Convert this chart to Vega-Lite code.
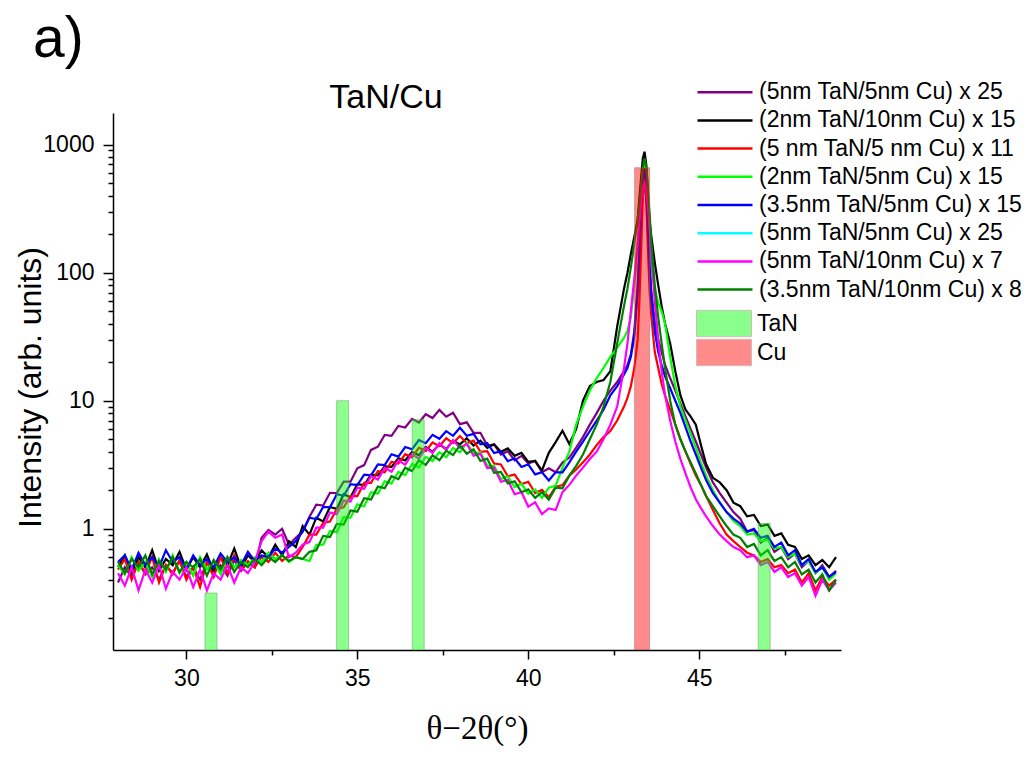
{
"$schema": "https://vega.github.io/schema/vega-lite/v6.json",
"width": 728, "height": 537,
"autosize": {"type": "none"},
"padding": {"left": 113, "top": 113, "right": 193, "bottom": 109},
"background": "white",
"config": {"view": {"stroke": null}, "axis": {"grid": false, "domainColor": "black", "tickColor": "black", "labelColor": "black", "titleColor": "black", "labelFont": "Liberation Sans", "titleFont": "Liberation Sans", "domainWidth": 1.5, "tickWidth": 1.5}},
"title": {"text": "a)", "anchor": "start", "frame": "group", "dx": -80, "fontSize": 57, "font": "Liberation Sans", "fontWeight": "normal", "baseline": "alphabetic", "offset": -34, "color": "black"},
"datasets": {
"ref": [{"phase":"TaN","pos":30.72,"h":0.315},{"phase":"TaN","pos":34.57,"h":10},{"phase":"TaN","pos":36.78,"h":7.1},{"phase":"TaN","pos":46.9,"h":1.1},{"phase":"Cu","pos":43.33,"h":660}],
"spec": [
{"s":"a","x":28,"y":0.38},{"s":"a","x":28.2,"y":0.5},{"s":"a","x":28.4,"y":0.42},{"s":"a","x":28.6,"y":0.55},{"s":"a","x":28.8,"y":0.44},{"s":"a","x":29,"y":0.5},{"s":"a","x":29.2,"y":0.4},{"s":"a","x":29.4,"y":0.52},{"s":"a","x":29.6,"y":0.45},{"s":"a","x":29.8,"y":0.56},
{"s":"a","x":30,"y":0.42},{"s":"a","x":30.2,"y":0.5},{"s":"a","x":30.4,"y":0.4},{"s":"a","x":30.6,"y":0.55},{"s":"a","x":30.8,"y":0.46},{"s":"a","x":31,"y":0.52},{"s":"a","x":31.2,"y":0.43},{"s":"a","x":31.4,"y":0.57},{"s":"a","x":31.6,"y":0.47},{"s":"a","x":31.8,"y":0.55},
{"s":"a","x":32,"y":0.5},{"s":"a","x":32.2,"y":0.85},{"s":"a","x":32.4,"y":0.98},{"s":"a","x":32.6,"y":0.9},{"s":"a","x":32.8,"y":1.0},{"s":"a","x":33,"y":0.75},{"s":"a","x":33.2,"y":0.85},{"s":"a","x":33.4,"y":0.95},{"s":"a","x":33.6,"y":1.24},{"s":"a","x":33.8,"y":1.54},
{"s":"a","x":34,"y":1.52},{"s":"a","x":34.2,"y":1.91},{"s":"a","x":34.4,"y":1.9},{"s":"a","x":34.6,"y":2.33},{"s":"a","x":34.8,"y":2.33},{"s":"a","x":35,"y":2.97},{"s":"a","x":35.2,"y":3.14},{"s":"a","x":35.4,"y":4.13},{"s":"a","x":35.6,"y":4.37},{"s":"a","x":35.8,"y":5.41},
{"s":"a","x":36,"y":5.32},{"s":"a","x":36.2,"y":6.36},{"s":"a","x":36.4,"y":6.18},{"s":"a","x":36.6,"y":7.21},{"s":"a","x":36.8,"y":6.75},{"s":"a","x":37,"y":7.84},{"s":"a","x":37.2,"y":7.32},{"s":"a","x":37.4,"y":8.48},{"s":"a","x":37.6,"y":7.5},{"s":"a","x":37.8,"y":8.06},
{"s":"a","x":38,"y":6.56},{"s":"a","x":38.2,"y":6.78},{"s":"a","x":38.4,"y":5.6},{"s":"a","x":38.6,"y":5.62},{"s":"a","x":38.8,"y":4.47},{"s":"a","x":39,"y":4.56},{"s":"a","x":39.2,"y":3.8},{"s":"a","x":39.4,"y":4.03},{"s":"a","x":39.6,"y":3.42},{"s":"a","x":39.8,"y":3.71},
{"s":"a","x":40,"y":3.23},{"s":"a","x":40.2,"y":3.39},{"s":"a","x":40.4,"y":2.76},{"s":"a","x":40.6,"y":2.97},{"s":"a","x":40.8,"y":2.76},{"s":"a","x":41,"y":3.29},{"s":"a","x":41.2,"y":3.6},{"s":"a","x":41.4,"y":4.3},{"s":"a","x":41.6,"y":5.2},{"s":"a","x":41.8,"y":6.5},
{"s":"a","x":42,"y":8},{"s":"a","x":42.2,"y":10},{"s":"a","x":42.4,"y":12},{"s":"a","x":42.6,"y":14},{"s":"a","x":42.8,"y":17},{"s":"a","x":42.9,"y":19},{"s":"a","x":43,"y":23},{"s":"a","x":43.1,"y":35},{"s":"a","x":43.2,"y":80},{"s":"a","x":43.25,"y":150},
{"s":"a","x":43.3,"y":280},{"s":"a","x":43.35,"y":420},{"s":"a","x":43.4,"y":480},{"s":"a","x":43.45,"y":380},{"s":"a","x":43.5,"y":200},{"s":"a","x":43.55,"y":110},{"s":"a","x":43.6,"y":70},{"s":"a","x":43.7,"y":42},{"s":"a","x":43.8,"y":30},{"s":"a","x":43.9,"y":24},
{"s":"a","x":44,"y":19},{"s":"a","x":44.15,"y":15},{"s":"a","x":44.3,"y":12},{"s":"a","x":44.45,"y":9.5},{"s":"a","x":44.6,"y":7.5},{"s":"a","x":44.75,"y":6},{"s":"a","x":44.9,"y":4.8},{"s":"a","x":45.05,"y":3.8},{"s":"a","x":45.2,"y":3.0},{"s":"a","x":45.4,"y":2.3},
{"s":"a","x":45.6,"y":1.9},{"s":"a","x":45.8,"y":1.6},{"s":"a","x":46,"y":1.35},{"s":"a","x":46.2,"y":1.2},{"s":"a","x":46.4,"y":0.95},{"s":"a","x":46.6,"y":0.98},{"s":"a","x":46.8,"y":0.78},{"s":"a","x":47,"y":0.85},{"s":"a","x":47.2,"y":0.66},{"s":"a","x":47.4,"y":0.72},
{"s":"a","x":47.6,"y":0.58},{"s":"a","x":47.8,"y":0.64},{"s":"a","x":48,"y":0.5},{"s":"a","x":48.2,"y":0.56},{"s":"a","x":48.4,"y":0.45},{"s":"a","x":48.6,"y":0.52},{"s":"a","x":48.8,"y":0.42},{"s":"a","x":49,"y":0.47},

{"s":"b","x":28,"y":0.5},{"s":"b","x":28.2,"y":0.62},{"s":"b","x":28.4,"y":0.45},{"s":"b","x":28.6,"y":0.6},{"s":"b","x":28.8,"y":0.5},{"s":"b","x":29,"y":0.68},{"s":"b","x":29.2,"y":0.47},{"s":"b","x":29.4,"y":0.58},{"s":"b","x":29.6,"y":0.52},{"s":"b","x":29.8,"y":0.66},
{"s":"b","x":30,"y":0.48},{"s":"b","x":30.2,"y":0.6},{"s":"b","x":30.4,"y":0.5},{"s":"b","x":30.6,"y":0.63},{"s":"b","x":30.8,"y":0.46},{"s":"b","x":31,"y":0.6},{"s":"b","x":31.2,"y":0.52},{"s":"b","x":31.4,"y":0.7},{"s":"b","x":31.6,"y":0.5},{"s":"b","x":31.8,"y":0.62},
{"s":"b","x":32,"y":0.55},{"s":"b","x":32.2,"y":0.68},{"s":"b","x":32.4,"y":0.6},{"s":"b","x":32.6,"y":0.75},{"s":"b","x":32.8,"y":0.62},{"s":"b","x":33,"y":0.8},{"s":"b","x":33.2,"y":0.72},{"s":"b","x":33.4,"y":1.05},{"s":"b","x":33.6,"y":0.9},{"s":"b","x":33.8,"y":1.22},
{"s":"b","x":34,"y":1.14},{"s":"b","x":34.2,"y":1.48},{"s":"b","x":34.4,"y":1.43},{"s":"b","x":34.6,"y":1.86},{"s":"b","x":34.8,"y":1.76},{"s":"b","x":35,"y":2.23},{"s":"b","x":35.2,"y":2.19},{"s":"b","x":35.4,"y":2.65},{"s":"b","x":35.6,"y":2.61},{"s":"b","x":35.8,"y":3.07},
{"s":"b","x":36,"y":3.04},{"s":"b","x":36.2,"y":3.55},{"s":"b","x":36.4,"y":3.42},{"s":"b","x":36.6,"y":3.98},{"s":"b","x":36.8,"y":3.75},{"s":"b","x":37,"y":4.35},{"s":"b","x":37.2,"y":3.99},{"s":"b","x":37.4,"y":4.56},{"s":"b","x":37.6,"y":4.18},{"s":"b","x":37.8,"y":4.88},
{"s":"b","x":38,"y":4.56},{"s":"b","x":38.2,"y":5.09},{"s":"b","x":38.4,"y":4.47},{"s":"b","x":38.6,"y":4.88},{"s":"b","x":38.8,"y":4.28},{"s":"b","x":39,"y":4.56},{"s":"b","x":39.2,"y":3.99},{"s":"b","x":39.4,"y":4.24},{"s":"b","x":39.6,"y":3.71},{"s":"b","x":39.8,"y":3.92},
{"s":"b","x":40,"y":3.33},{"s":"b","x":40.2,"y":3.39},{"s":"b","x":40.4,"y":2.85},{"s":"b","x":40.6,"y":3.92},{"s":"b","x":40.8,"y":4.75},{"s":"b","x":41,"y":5.83},{"s":"b","x":41.2,"y":4.6},{"s":"b","x":41.4,"y":6.0},{"s":"b","x":41.6,"y":10},{"s":"b","x":41.8,"y":13},
{"s":"b","x":42,"y":14},{"s":"b","x":42.2,"y":14.5},{"s":"b","x":42.4,"y":17},{"s":"b","x":42.6,"y":38},{"s":"b","x":42.8,"y":75},{"s":"b","x":42.9,"y":100},{"s":"b","x":43,"y":140},{"s":"b","x":43.1,"y":190},{"s":"b","x":43.2,"y":260},{"s":"b","x":43.25,"y":380},
{"s":"b","x":43.3,"y":550},{"s":"b","x":43.35,"y":780},{"s":"b","x":43.4,"y":880},{"s":"b","x":43.45,"y":700},{"s":"b","x":43.5,"y":420},{"s":"b","x":43.55,"y":250},{"s":"b","x":43.6,"y":190},{"s":"b","x":43.7,"y":120},{"s":"b","x":43.8,"y":80},{"s":"b","x":43.9,"y":55},
{"s":"b","x":44,"y":40},{"s":"b","x":44.15,"y":28},{"s":"b","x":44.3,"y":17},{"s":"b","x":44.45,"y":11},{"s":"b","x":44.6,"y":8.5},{"s":"b","x":44.75,"y":7.5},{"s":"b","x":44.9,"y":6.5},{"s":"b","x":45.05,"y":4.5},{"s":"b","x":45.2,"y":3.2},{"s":"b","x":45.4,"y":2.5},
{"s":"b","x":45.6,"y":2.3},{"s":"b","x":45.8,"y":2.0},{"s":"b","x":46,"y":1.6},{"s":"b","x":46.2,"y":1.5},{"s":"b","x":46.4,"y":1.25},{"s":"b","x":46.6,"y":1.28},{"s":"b","x":46.8,"y":1.05},{"s":"b","x":47,"y":1.08},{"s":"b","x":47.2,"y":0.88},{"s":"b","x":47.4,"y":0.92},
{"s":"b","x":47.6,"y":0.75},{"s":"b","x":47.8,"y":0.72},{"s":"b","x":48,"y":0.58},{"s":"b","x":48.2,"y":0.62},{"s":"b","x":48.4,"y":0.52},{"s":"b","x":48.6,"y":0.57},{"s":"b","x":48.8,"y":0.5},{"s":"b","x":49,"y":0.6},

{"s":"c","x":28,"y":0.48},{"s":"c","x":28.2,"y":0.58},{"s":"c","x":28.4,"y":0.4},{"s":"c","x":28.6,"y":0.55},{"s":"c","x":28.8,"y":0.45},{"s":"c","x":29,"y":0.6},{"s":"c","x":29.2,"y":0.38},{"s":"c","x":29.4,"y":0.52},{"s":"c","x":29.6,"y":0.44},{"s":"c","x":29.8,"y":0.57},
{"s":"c","x":30,"y":0.4},{"s":"c","x":30.2,"y":0.5},{"s":"c","x":30.4,"y":0.35},{"s":"c","x":30.6,"y":0.55},{"s":"c","x":30.8,"y":0.42},{"s":"c","x":31,"y":0.6},{"s":"c","x":31.2,"y":0.45},{"s":"c","x":31.4,"y":0.62},{"s":"c","x":31.6,"y":0.48},{"s":"c","x":31.8,"y":0.56},
{"s":"c","x":32,"y":0.5},{"s":"c","x":32.2,"y":0.6},{"s":"c","x":32.4,"y":0.55},{"s":"c","x":32.6,"y":0.65},{"s":"c","x":32.8,"y":0.56},{"s":"c","x":33,"y":0.62},{"s":"c","x":33.2,"y":0.6},{"s":"c","x":33.4,"y":0.72},{"s":"c","x":33.6,"y":0.9},{"s":"c","x":33.8,"y":0.9},
{"s":"c","x":34,"y":1.11},{"s":"c","x":34.2,"y":1.14},{"s":"c","x":34.4,"y":1.43},{"s":"c","x":34.6,"y":1.47},{"s":"c","x":34.8,"y":1.8},{"s":"c","x":35,"y":1.8},{"s":"c","x":35.2,"y":2.28},{"s":"c","x":35.4,"y":2.28},{"s":"c","x":35.6,"y":2.81},{"s":"c","x":35.8,"y":2.76},
{"s":"c","x":36,"y":3.34},{"s":"c","x":36.2,"y":3.23},{"s":"c","x":36.4,"y":3.82},{"s":"c","x":36.6,"y":3.61},{"s":"c","x":36.8,"y":4.29},{"s":"c","x":37,"y":4.04},{"s":"c","x":37.2,"y":4.72},{"s":"c","x":37.4,"y":4.42},{"s":"c","x":37.6,"y":5.09},{"s":"c","x":37.8,"y":4.66},
{"s":"c","x":38,"y":5.3},{"s":"c","x":38.2,"y":4.66},{"s":"c","x":38.4,"y":4.88},{"s":"c","x":38.6,"y":3.99},{"s":"c","x":38.8,"y":4.03},{"s":"c","x":39,"y":3.23},{"s":"c","x":39.2,"y":3.18},{"s":"c","x":39.4,"y":2.57},{"s":"c","x":39.6,"y":2.65},{"s":"c","x":39.8,"y":2.23},
{"s":"c","x":40,"y":2.33},{"s":"c","x":40.2,"y":1.9},{"s":"c","x":40.4,"y":2.01},{"s":"c","x":40.6,"y":1.76},{"s":"c","x":40.8,"y":2.12},{"s":"c","x":41,"y":2.19},{"s":"c","x":41.2,"y":2.6},{"s":"c","x":41.4,"y":2.9},{"s":"c","x":41.6,"y":3.3},{"s":"c","x":41.8,"y":3.8},
{"s":"c","x":42,"y":4.5},{"s":"c","x":42.2,"y":5.2},{"s":"c","x":42.4,"y":5.8},{"s":"c","x":42.6,"y":7},{"s":"c","x":42.8,"y":9},{"s":"c","x":42.9,"y":10.5},{"s":"c","x":43,"y":13},{"s":"c","x":43.1,"y":18},{"s":"c","x":43.2,"y":30},{"s":"c","x":43.25,"y":60},
{"s":"c","x":43.3,"y":150},{"s":"c","x":43.35,"y":400},{"s":"c","x":43.4,"y":600},{"s":"c","x":43.45,"y":400},{"s":"c","x":43.5,"y":150},{"s":"c","x":43.55,"y":70},{"s":"c","x":43.6,"y":45},{"s":"c","x":43.7,"y":24},{"s":"c","x":43.8,"y":18},{"s":"c","x":43.9,"y":13.5},
{"s":"c","x":44,"y":11},{"s":"c","x":44.15,"y":8.5},{"s":"c","x":44.3,"y":6.5},{"s":"c","x":44.45,"y":5},{"s":"c","x":44.6,"y":4},{"s":"c","x":44.75,"y":3.2},{"s":"c","x":44.9,"y":2.6},{"s":"c","x":45.05,"y":2.2},{"s":"c","x":45.2,"y":1.8},{"s":"c","x":45.4,"y":1.4},
{"s":"c","x":45.6,"y":1.1},{"s":"c","x":45.8,"y":0.9},{"s":"c","x":46,"y":0.8},{"s":"c","x":46.2,"y":0.72},{"s":"c","x":46.4,"y":0.65},{"s":"c","x":46.6,"y":0.62},{"s":"c","x":46.8,"y":0.55},{"s":"c","x":47,"y":0.58},{"s":"c","x":47.2,"y":0.5},{"s":"c","x":47.4,"y":0.52},
{"s":"c","x":47.6,"y":0.45},{"s":"c","x":47.8,"y":0.48},{"s":"c","x":48,"y":0.38},{"s":"c","x":48.2,"y":0.45},{"s":"c","x":48.4,"y":0.33},{"s":"c","x":48.6,"y":0.42},{"s":"c","x":48.8,"y":0.36},{"s":"c","x":49,"y":0.4},

{"s":"d","x":28,"y":0.52},{"s":"d","x":28.2,"y":0.44},{"s":"d","x":28.4,"y":0.6},{"s":"d","x":28.6,"y":0.47},{"s":"d","x":28.8,"y":0.55},{"s":"d","x":29,"y":0.42},{"s":"d","x":29.2,"y":0.58},{"s":"d","x":29.4,"y":0.46},{"s":"d","x":29.6,"y":0.62},{"s":"d","x":29.8,"y":0.45},
{"s":"d","x":30,"y":0.55},{"s":"d","x":30.2,"y":0.43},{"s":"d","x":30.4,"y":0.6},{"s":"d","x":30.6,"y":0.48},{"s":"d","x":30.8,"y":0.56},{"s":"d","x":31,"y":0.44},{"s":"d","x":31.2,"y":0.6},{"s":"d","x":31.4,"y":0.5},{"s":"d","x":31.6,"y":0.57},{"s":"d","x":31.8,"y":0.52},
{"s":"d","x":32,"y":0.6},{"s":"d","x":32.2,"y":0.55},{"s":"d","x":32.4,"y":0.65},{"s":"d","x":32.6,"y":0.58},{"s":"d","x":32.8,"y":0.62},{"s":"d","x":33,"y":0.55},{"s":"d","x":33.2,"y":0.6},{"s":"d","x":33.4,"y":0.58},{"s":"d","x":33.6,"y":0.56},{"s":"d","x":33.8,"y":0.75},
{"s":"d","x":34,"y":0.75},{"s":"d","x":34.2,"y":0.96},{"s":"d","x":34.4,"y":0.94},{"s":"d","x":34.6,"y":1.23},{"s":"d","x":34.8,"y":1.22},{"s":"d","x":35,"y":1.55},{"s":"d","x":35.2,"y":1.5},{"s":"d","x":35.4,"y":1.93},{"s":"d","x":35.6,"y":1.88},{"s":"d","x":35.8,"y":2.35},
{"s":"d","x":36,"y":2.26},{"s":"d","x":36.2,"y":2.78},{"s":"d","x":36.4,"y":2.63},{"s":"d","x":36.6,"y":3.21},{"s":"d","x":36.8,"y":3.01},{"s":"d","x":37,"y":3.64},{"s":"d","x":37.2,"y":3.38},{"s":"d","x":37.4,"y":3.96},{"s":"d","x":37.6,"y":3.62},{"s":"d","x":37.8,"y":4.28},
{"s":"d","x":38,"y":3.95},{"s":"d","x":38.2,"y":4.71},{"s":"d","x":38.4,"y":3.85},{"s":"d","x":38.6,"y":3.96},{"s":"d","x":38.8,"y":3.1},{"s":"d","x":39,"y":3.1},{"s":"d","x":39.2,"y":2.44},{"s":"d","x":39.4,"y":2.57},{"s":"d","x":39.6,"y":2.12},{"s":"d","x":39.8,"y":2.25},
{"s":"d","x":40,"y":1.88},{"s":"d","x":40.2,"y":2.03},{"s":"d","x":40.4,"y":1.74},{"s":"d","x":40.6,"y":2.09},{"s":"d","x":40.8,"y":2.16},{"s":"d","x":41,"y":3.0},{"s":"d","x":41.2,"y":4.0},{"s":"d","x":41.4,"y":6.5},{"s":"d","x":41.6,"y":9},{"s":"d","x":41.8,"y":12},
{"s":"d","x":42,"y":15},{"s":"d","x":42.2,"y":18},{"s":"d","x":42.4,"y":22},{"s":"d","x":42.6,"y":26},{"s":"d","x":42.8,"y":31},{"s":"d","x":42.9,"y":35},{"s":"d","x":43,"y":45},{"s":"d","x":43.1,"y":80},{"s":"d","x":43.2,"y":160},{"s":"d","x":43.25,"y":250},
{"s":"d","x":43.3,"y":420},{"s":"d","x":43.35,"y":620},{"s":"d","x":43.4,"y":740},{"s":"d","x":43.45,"y":600},{"s":"d","x":43.5,"y":330},{"s":"d","x":43.55,"y":170},{"s":"d","x":43.6,"y":110},{"s":"d","x":43.7,"y":75},{"s":"d","x":43.8,"y":58},{"s":"d","x":43.9,"y":50},
{"s":"d","x":44,"y":40},{"s":"d","x":44.15,"y":22},{"s":"d","x":44.3,"y":13},{"s":"d","x":44.45,"y":9},{"s":"d","x":44.6,"y":7},{"s":"d","x":44.75,"y":5.5},{"s":"d","x":44.9,"y":4.3},{"s":"d","x":45.05,"y":3.3},{"s":"d","x":45.2,"y":2.6},{"s":"d","x":45.4,"y":2.0},
{"s":"d","x":45.6,"y":1.6},{"s":"d","x":45.8,"y":1.35},{"s":"d","x":46,"y":1.15},{"s":"d","x":46.2,"y":1.05},{"s":"d","x":46.4,"y":0.9},{"s":"d","x":46.6,"y":0.92},{"s":"d","x":46.8,"y":0.8},{"s":"d","x":47,"y":0.82},{"s":"d","x":47.2,"y":0.7},{"s":"d","x":47.4,"y":0.72},
{"s":"d","x":47.6,"y":0.6},{"s":"d","x":47.8,"y":0.64},{"s":"d","x":48,"y":0.52},{"s":"d","x":48.2,"y":0.56},{"s":"d","x":48.4,"y":0.45},{"s":"d","x":48.6,"y":0.5},{"s":"d","x":48.8,"y":0.4},{"s":"d","x":49,"y":0.45},

{"s":"e","x":28,"y":0.55},{"s":"e","x":28.2,"y":0.62},{"s":"e","x":28.4,"y":0.48},{"s":"e","x":28.6,"y":0.65},{"s":"e","x":28.8,"y":0.52},{"s":"e","x":29,"y":0.6},{"s":"e","x":29.2,"y":0.5},{"s":"e","x":29.4,"y":0.68},{"s":"e","x":29.6,"y":0.55},{"s":"e","x":29.8,"y":0.6},
{"s":"e","x":30,"y":0.48},{"s":"e","x":30.2,"y":0.62},{"s":"e","x":30.4,"y":0.52},{"s":"e","x":30.6,"y":0.58},{"s":"e","x":30.8,"y":0.5},{"s":"e","x":31,"y":0.64},{"s":"e","x":31.2,"y":0.55},{"s":"e","x":31.4,"y":0.6},{"s":"e","x":31.6,"y":0.52},{"s":"e","x":31.8,"y":0.66},
{"s":"e","x":32,"y":0.56},{"s":"e","x":32.2,"y":0.62},{"s":"e","x":32.4,"y":0.6},{"s":"e","x":32.6,"y":0.7},{"s":"e","x":32.8,"y":0.65},{"s":"e","x":33,"y":0.72},{"s":"e","x":33.2,"y":0.8},{"s":"e","x":33.4,"y":0.95},{"s":"e","x":33.6,"y":1.22},{"s":"e","x":33.8,"y":1.19},
{"s":"e","x":34,"y":1.48},{"s":"e","x":34.2,"y":1.47},{"s":"e","x":34.4,"y":1.86},{"s":"e","x":34.6,"y":1.81},{"s":"e","x":34.8,"y":2.23},{"s":"e","x":35,"y":2.19},{"s":"e","x":35.2,"y":2.65},{"s":"e","x":35.4,"y":2.61},{"s":"e","x":35.6,"y":3.18},{"s":"e","x":35.8,"y":3.14},
{"s":"e","x":36,"y":3.82},{"s":"e","x":36.2,"y":3.66},{"s":"e","x":36.4,"y":4.35},{"s":"e","x":36.6,"y":4.18},{"s":"e","x":36.8,"y":4.93},{"s":"e","x":37,"y":4.66},{"s":"e","x":37.2,"y":5.41},{"s":"e","x":37.4,"y":5.04},{"s":"e","x":37.6,"y":5.78},{"s":"e","x":37.8,"y":5.32},
{"s":"e","x":38,"y":6.15},{"s":"e","x":38.2,"y":5.32},{"s":"e","x":38.4,"y":5.51},{"s":"e","x":38.6,"y":4.56},{"s":"e","x":38.8,"y":4.66},{"s":"e","x":39,"y":3.9},{"s":"e","x":39.2,"y":4.03},{"s":"e","x":39.4,"y":3.37},{"s":"e","x":39.6,"y":3.55},{"s":"e","x":39.8,"y":3.04},
{"s":"e","x":40,"y":3.18},{"s":"e","x":40.2,"y":2.66},{"s":"e","x":40.4,"y":2.76},{"s":"e","x":40.6,"y":2.38},{"s":"e","x":40.8,"y":2.76},{"s":"e","x":41,"y":2.76},{"s":"e","x":41.2,"y":3.3},{"s":"e","x":41.4,"y":4.0},{"s":"e","x":41.6,"y":4.8},{"s":"e","x":41.8,"y":5.8},
{"s":"e","x":42,"y":7},{"s":"e","x":42.2,"y":8.5},{"s":"e","x":42.4,"y":11},{"s":"e","x":42.6,"y":13},{"s":"e","x":42.8,"y":16},{"s":"e","x":42.9,"y":18},{"s":"e","x":43,"y":22},{"s":"e","x":43.1,"y":32},{"s":"e","x":43.2,"y":70},{"s":"e","x":43.25,"y":150},
{"s":"e","x":43.3,"y":320},{"s":"e","x":43.35,"y":550},{"s":"e","x":43.4,"y":650},{"s":"e","x":43.45,"y":480},{"s":"e","x":43.5,"y":220},{"s":"e","x":43.55,"y":110},{"s":"e","x":43.6,"y":65},{"s":"e","x":43.7,"y":35},{"s":"e","x":43.8,"y":24},{"s":"e","x":43.9,"y":19},
{"s":"e","x":44,"y":15.5},{"s":"e","x":44.15,"y":12.5},{"s":"e","x":44.3,"y":10},{"s":"e","x":44.45,"y":8},{"s":"e","x":44.6,"y":6.2},{"s":"e","x":44.75,"y":4.8},{"s":"e","x":44.9,"y":3.8},{"s":"e","x":45.05,"y":3.0},{"s":"e","x":45.2,"y":2.4},{"s":"e","x":45.4,"y":1.9},
{"s":"e","x":45.6,"y":1.6},{"s":"e","x":45.8,"y":1.35},{"s":"e","x":46,"y":1.2},{"s":"e","x":46.2,"y":1.1},{"s":"e","x":46.4,"y":0.95},{"s":"e","x":46.6,"y":1.0},{"s":"e","x":46.8,"y":0.85},{"s":"e","x":47,"y":0.88},{"s":"e","x":47.2,"y":0.72},{"s":"e","x":47.4,"y":0.78},
{"s":"e","x":47.6,"y":0.62},{"s":"e","x":47.8,"y":0.68},{"s":"e","x":48,"y":0.52},{"s":"e","x":48.2,"y":0.58},{"s":"e","x":48.4,"y":0.46},{"s":"e","x":48.6,"y":0.5},{"s":"e","x":48.8,"y":0.42},{"s":"e","x":49,"y":0.46},

{"s":"g","x":28,"y":0.45},{"s":"g","x":28.2,"y":0.36},{"s":"g","x":28.4,"y":0.5},{"s":"g","x":28.6,"y":0.33},{"s":"g","x":28.8,"y":0.48},{"s":"g","x":29,"y":0.38},{"s":"g","x":29.2,"y":0.52},{"s":"g","x":29.4,"y":0.34},{"s":"g","x":29.6,"y":0.46},{"s":"g","x":29.8,"y":0.4},
{"s":"g","x":30,"y":0.5},{"s":"g","x":30.2,"y":0.35},{"s":"g","x":30.4,"y":0.48},{"s":"g","x":30.6,"y":0.33},{"s":"g","x":30.8,"y":0.45},{"s":"g","x":31,"y":0.4},{"s":"g","x":31.2,"y":0.52},{"s":"g","x":31.4,"y":0.38},{"s":"g","x":31.6,"y":0.5},{"s":"g","x":31.8,"y":0.45},
{"s":"g","x":32,"y":0.55},{"s":"g","x":32.2,"y":0.8},{"s":"g","x":32.4,"y":0.95},{"s":"g","x":32.6,"y":0.85},{"s":"g","x":32.8,"y":0.9},{"s":"g","x":33,"y":0.6},{"s":"g","x":33.2,"y":0.65},{"s":"g","x":33.4,"y":0.75},{"s":"g","x":33.6,"y":0.79},{"s":"g","x":33.8,"y":1.02},
{"s":"g","x":34,"y":1.02},{"s":"g","x":34.2,"y":1.34},{"s":"g","x":34.4,"y":1.3},{"s":"g","x":34.6,"y":1.66},{"s":"g","x":34.8,"y":1.63},{"s":"g","x":35,"y":2.09},{"s":"g","x":35.2,"y":2.05},{"s":"g","x":35.4,"y":2.57},{"s":"g","x":35.6,"y":2.42},{"s":"g","x":35.8,"y":3.0},
{"s":"g","x":36,"y":2.79},{"s":"g","x":36.2,"y":3.42},{"s":"g","x":36.4,"y":3.16},{"s":"g","x":36.6,"y":3.85},{"s":"g","x":36.8,"y":3.53},{"s":"g","x":37,"y":4.28},{"s":"g","x":37.2,"y":3.91},{"s":"g","x":37.4,"y":4.65},{"s":"g","x":37.6,"y":4.14},{"s":"g","x":37.8,"y":4.92},
{"s":"g","x":38,"y":4.28},{"s":"g","x":38.2,"y":4.6},{"s":"g","x":38.4,"y":3.72},{"s":"g","x":38.6,"y":3.85},{"s":"g","x":38.8,"y":2.98},{"s":"g","x":39,"y":3.0},{"s":"g","x":39.2,"y":2.33},{"s":"g","x":39.4,"y":2.41},{"s":"g","x":39.6,"y":1.86},{"s":"g","x":39.8,"y":1.93},
{"s":"g","x":40,"y":1.49},{"s":"g","x":40.2,"y":1.61},{"s":"g","x":40.4,"y":1.3},{"s":"g","x":40.6,"y":1.44},{"s":"g","x":40.8,"y":1.4},{"s":"g","x":41,"y":1.93},{"s":"g","x":41.2,"y":2.2},{"s":"g","x":41.4,"y":2.6},{"s":"g","x":41.6,"y":3.0},{"s":"g","x":41.8,"y":3.5},
{"s":"g","x":42,"y":4.0},{"s":"g","x":42.2,"y":5.0},{"s":"g","x":42.4,"y":6.5},{"s":"g","x":42.6,"y":9},{"s":"g","x":42.8,"y":18},{"s":"g","x":42.9,"y":28},{"s":"g","x":43,"y":50},{"s":"g","x":43.1,"y":90},{"s":"g","x":43.2,"y":170},{"s":"g","x":43.25,"y":250},
{"s":"g","x":43.3,"y":360},{"s":"g","x":43.35,"y":460},{"s":"g","x":43.4,"y":500},{"s":"g","x":43.45,"y":450},{"s":"g","x":43.5,"y":330},{"s":"g","x":43.55,"y":220},{"s":"g","x":43.6,"y":140},{"s":"g","x":43.7,"y":60},{"s":"g","x":43.8,"y":30},{"s":"g","x":43.9,"y":17},
{"s":"g","x":44,"y":11},{"s":"g","x":44.15,"y":7},{"s":"g","x":44.3,"y":4.8},{"s":"g","x":44.45,"y":3.5},{"s":"g","x":44.6,"y":2.7},{"s":"g","x":44.75,"y":2.1},{"s":"g","x":44.9,"y":1.7},{"s":"g","x":45.05,"y":1.45},{"s":"g","x":45.2,"y":1.25},{"s":"g","x":45.4,"y":1.05},
{"s":"g","x":45.6,"y":0.9},{"s":"g","x":45.8,"y":0.8},{"s":"g","x":46,"y":0.72},{"s":"g","x":46.2,"y":0.68},{"s":"g","x":46.4,"y":0.6},{"s":"g","x":46.6,"y":0.62},{"s":"g","x":46.8,"y":0.52},{"s":"g","x":47,"y":0.55},{"s":"g","x":47.2,"y":0.46},{"s":"g","x":47.4,"y":0.5},
{"s":"g","x":47.6,"y":0.42},{"s":"g","x":47.8,"y":0.45},{"s":"g","x":48,"y":0.36},{"s":"g","x":48.2,"y":0.42},{"s":"g","x":48.4,"y":0.3},{"s":"g","x":48.6,"y":0.4},{"s":"g","x":48.8,"y":0.33},{"s":"g","x":49,"y":0.38},

{"s":"h","x":28,"y":0.55},{"s":"h","x":28.2,"y":0.45},{"s":"h","x":28.4,"y":0.58},{"s":"h","x":28.6,"y":0.5},{"s":"h","x":28.8,"y":0.62},{"s":"h","x":29,"y":0.44},{"s":"h","x":29.2,"y":0.56},{"s":"h","x":29.4,"y":0.48},{"s":"h","x":29.6,"y":0.6},{"s":"h","x":29.8,"y":0.46},
{"s":"h","x":30,"y":0.55},{"s":"h","x":30.2,"y":0.5},{"s":"h","x":30.4,"y":0.58},{"s":"h","x":30.6,"y":0.43},{"s":"h","x":30.8,"y":0.57},{"s":"h","x":31,"y":0.48},{"s":"h","x":31.2,"y":0.6},{"s":"h","x":31.4,"y":0.46},{"s":"h","x":31.6,"y":0.55},{"s":"h","x":31.8,"y":0.5},
{"s":"h","x":32,"y":0.58},{"s":"h","x":32.2,"y":0.52},{"s":"h","x":32.4,"y":0.6},{"s":"h","x":32.6,"y":0.55},{"s":"h","x":32.8,"y":0.62},{"s":"h","x":33,"y":0.56},{"s":"h","x":33.2,"y":0.6},{"s":"h","x":33.4,"y":0.58},{"s":"h","x":33.6,"y":0.66},{"s":"h","x":33.8,"y":0.68},
{"s":"h","x":34,"y":0.88},{"s":"h","x":34.2,"y":0.86},{"s":"h","x":34.4,"y":1.09},{"s":"h","x":34.6,"y":1.08},{"s":"h","x":34.8,"y":1.39},{"s":"h","x":35,"y":1.36},{"s":"h","x":35.2,"y":1.73},{"s":"h","x":35.4,"y":1.69},{"s":"h","x":35.6,"y":2.14},{"s":"h","x":35.8,"y":2.07},
{"s":"h","x":36,"y":2.57},{"s":"h","x":36.2,"y":2.44},{"s":"h","x":36.4,"y":3.0},{"s":"h","x":36.6,"y":2.82},{"s":"h","x":36.8,"y":3.42},{"s":"h","x":37,"y":3.15},{"s":"h","x":37.2,"y":3.75},{"s":"h","x":37.4,"y":3.43},{"s":"h","x":37.6,"y":4.07},{"s":"h","x":37.8,"y":3.76},
{"s":"h","x":38,"y":4.49},{"s":"h","x":38.2,"y":3.85},{"s":"h","x":38.4,"y":4.17},{"s":"h","x":38.6,"y":3.38},{"s":"h","x":38.8,"y":3.53},{"s":"h","x":39,"y":2.73},{"s":"h","x":39.2,"y":2.78},{"s":"h","x":39.4,"y":2.26},{"s":"h","x":39.6,"y":2.35},{"s":"h","x":39.8,"y":1.93},
{"s":"h","x":40,"y":2.03},{"s":"h","x":40.2,"y":1.74},{"s":"h","x":40.4,"y":1.93},{"s":"h","x":40.6,"y":1.69},{"s":"h","x":40.8,"y":2.09},{"s":"h","x":41,"y":2.07},{"s":"h","x":41.2,"y":2.6},{"s":"h","x":41.4,"y":3.1},{"s":"h","x":41.6,"y":3.8},{"s":"h","x":41.8,"y":5},
{"s":"h","x":42,"y":6.5},{"s":"h","x":42.2,"y":9},{"s":"h","x":42.4,"y":14},{"s":"h","x":42.6,"y":28},{"s":"h","x":42.8,"y":55},{"s":"h","x":42.9,"y":75},{"s":"h","x":43,"y":110},{"s":"h","x":43.1,"y":170},{"s":"h","x":43.2,"y":260},{"s":"h","x":43.25,"y":350},
{"s":"h","x":43.3,"y":480},{"s":"h","x":43.35,"y":650},{"s":"h","x":43.4,"y":780},{"s":"h","x":43.45,"y":680},{"s":"h","x":43.5,"y":450},{"s":"h","x":43.55,"y":280},{"s":"h","x":43.6,"y":170},{"s":"h","x":43.7,"y":80},{"s":"h","x":43.8,"y":45},{"s":"h","x":43.9,"y":28},
{"s":"h","x":44,"y":18},{"s":"h","x":44.15,"y":10},{"s":"h","x":44.3,"y":6.5},{"s":"h","x":44.45,"y":5},{"s":"h","x":44.6,"y":4},{"s":"h","x":44.75,"y":3.3},{"s":"h","x":44.9,"y":2.7},{"s":"h","x":45.05,"y":2.2},{"s":"h","x":45.2,"y":1.8},{"s":"h","x":45.4,"y":1.5},
{"s":"h","x":45.6,"y":1.25},{"s":"h","x":45.8,"y":1.05},{"s":"h","x":46,"y":0.9},{"s":"h","x":46.2,"y":0.85},{"s":"h","x":46.4,"y":0.72},{"s":"h","x":46.6,"y":0.76},{"s":"h","x":46.8,"y":0.62},{"s":"h","x":47,"y":0.68},{"s":"h","x":47.2,"y":0.56},{"s":"h","x":47.4,"y":0.6},
{"s":"h","x":47.6,"y":0.5},{"s":"h","x":47.8,"y":0.55},{"s":"h","x":48,"y":0.44},{"s":"h","x":48.2,"y":0.48},{"s":"h","x":48.4,"y":0.38},{"s":"h","x":48.6,"y":0.44},{"s":"h","x":48.8,"y":0.33},{"s":"h","x":49,"y":0.4}
]},
"layer": [
{
"data": {"name": "spec"},
"mark": {"type": "line", "strokeWidth": 2.2, "clip": true},
"encoding": {
"x": {"field": "x", "type": "quantitative", "scale": {"domain": [28, 49], "nice": false, "zero": false},
 "axis": {"orient": "bottom", "values": [30, 32.5, 35, 37.5, 40, 42.5, 45, 47.5], "format": "d", "labelExpr": "datum.value % 5 == 0 ? datum.label : ''", "tickSize": {"condition": {"test": "datum.value % 5 == 0", "value": 9}, "value": 5}, "labelFontSize": 23, "labelPadding": 8, "labelOverlap": false, "labelFlush": false, "title": "θ−2θ(°)", "titleFont": "Liberation Serif", "titleFontSize": 33, "titleFontWeight": "normal", "titlePadding": 22}},
"y": {"field": "y", "type": "quantitative", "scale": {"type": "log", "domain": [0.113, 1766], "nice": false},
 "axis": {"values": [0.2,0.3,0.4,0.5,0.6,0.7,0.8,0.9,1,2,3,4,5,6,7,8,9,10,20,30,40,50,60,70,80,90,100,200,300,400,500,600,700,800,900,1000], "format": "~g", "labelExpr": "(datum.value == 1 || datum.value == 10 || datum.value == 100 || datum.value == 1000) ? datum.label : ''", "tickSize": {"condition": {"test": "datum.value == 1 || datum.value == 10 || datum.value == 100 || datum.value == 1000", "value": 10}, "value": 5}, "labelFontSize": 23, "labelPadding": 9, "labelOverlap": false, "title": "Intensity (arb. units)", "titleFontSize": 32, "titleFontWeight": "normal", "titlePadding": -5, "titleY": 274}},
"stroke": {"field": "s", "type": "nominal", "scale": {"domain": ["a","b","c","d","e","f","g","h"], "range": ["#800080","#000000","#ff0000","#00ff00","#0000ff","#00ffff","#ff00ff","#008000"]},
 "legend": {"orient": "none", "legendX": 599.5, "legendY": -33.3, "title": null, "padding": 0, "symbolType": "M-2.5,0H2.5", "symbolSize": 484, "symbolStrokeWidth": 2.5, "labelFontSize": 23, "labelFont": "Liberation Sans", "labelColor": "black", "labelOffset": 21.5, "rowPadding": 3.2, "labelLimit": 400,
  "labelExpr": "['(5nm TaN/5nm Cu) x 25','(2nm TaN/10nm Cu) x 15','(5 nm TaN/5 nm Cu) x 11','(2nm TaN/5nm Cu) x 15','(3.5nm TaN/5nm Cu) x 15','(5nm TaN/5nm Cu) x 25','(5nm TaN/10nm Cu) x 7','(3.5nm TaN/10nm Cu) x 8'][indexof(['a','b','c','d','e','f','g','h'], datum.value)]"}}
}
},
{
"data": {"name": "ref"},
"transform": [{"filter": "datum.phase == 'TaN'"}],
"mark": {"type": "bar", "width": 12, "fillOpacity": 0.45, "stroke": "#6a9a6a", "strokeOpacity": 0.5, "strokeWidth": 1, "clip": true},
"encoding": {
"x": {"field": "pos", "type": "quantitative", "scale": {"domain": [28, 49], "nice": false, "zero": false},
 "axis": {"orient": "top", "domain": false, "ticks": false, "labels": false, "title": "TaN/Cu", "titleFontSize": 34, "titleFontWeight": "normal", "titleX": 272.5, "titleY": -6, "titleAlign": "center", "titleBaseline": "alphabetic", "titleAngle": 0}},
"y": {"field": "h", "type": "quantitative"},
"y2": {"datum": 0.1},
"fill": {"field": "phase", "type": "nominal", "scale": {"domain": ["TaN", "Cu"], "range": ["#00ff00", "#ff0000"]},
 "legend": {"orient": "none", "legendX": 599.5, "legendY": 199, "title": null, "padding": 0, "symbolType": "M-2.5,-1.2H2.5V1.2H-2.5Z", "symbolSize": 484, "symbolOpacity": 0.45, "symbolStrokeColor": "#666666", "symbolStrokeWidth": 1, "labelFontSize": 23, "labelFont": "Liberation Sans", "labelColor": "black", "labelOffset": 21.5, "rowPadding": -2}}
}
},
{
"data": {"name": "ref"},
"transform": [{"filter": "datum.phase == 'Cu'"}],
"mark": {"type": "bar", "width": 15, "fillOpacity": 0.45, "stroke": "#a06a6a", "strokeOpacity": 0.5, "strokeWidth": 1, "clip": true},
"encoding": {
"x": {"field": "pos", "type": "quantitative", "axis": null},
"y": {"field": "h", "type": "quantitative"},
"y2": {"datum": 0.1},
"fill": {"field": "phase", "type": "nominal"}
}
}
],
"resolve": {"axis": {"x": "independent"}}
}
